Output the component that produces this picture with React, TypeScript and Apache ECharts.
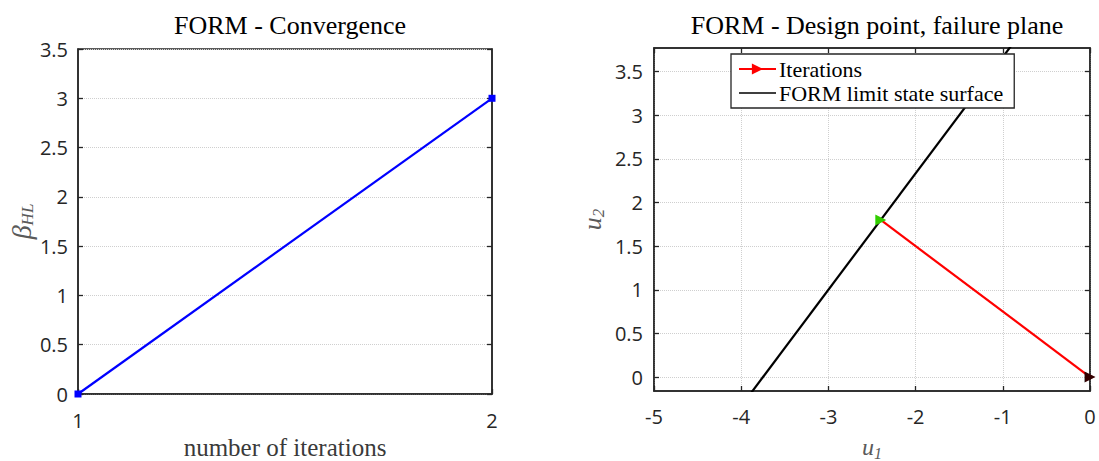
import React, { useEffect, useRef } from "react";
import * as echarts from "echarts";

// Left panel: convergence of beta_HL
const iterations = [1, 2];
const betaHL = [0, 3];

// Right panel: design point and failure plane
const iterU1 = [0, -2.4];
const iterU2 = [0, 1.8];
const lsfU1 = [-4.05, -0.75];
const lsfU2 = [-0.4, 4.0];
const u2Ticks = [0, 0.5, 1, 1.5, 2, 2.5, 3, 3.5];
const u2Min = -0.16;
const u2Max = 3.77;

const SERIF = "'Liberation Serif', 'Times New Roman', serif";
const SANS = "'Open Sans', 'Noto Sans', sans-serif";
const AX = "#262626";
const NAMEC = "#5a5a5a";
const GRIDC = "#cfcfcf";
const LINE_ICON = "path://M0,0 L0.01,0 L0.01,0.01 Z M0,5.2 L37,5.2 L37,6.8 L0,6.8 Z M0,12 L0.01,12 L0.01,11.99 Z";

export default function App() {
  const ref = useRef<HTMLDivElement>(null);
  useEffect(() => {
    document.body.style.margin = "0";
    document.body.style.overflow = "hidden";
    const chart = echarts.init(ref.current!, null, { renderer: "svg" });
    const tickStyle = { show: true, inside: true, length: 5, lineStyle: { color: AX, width: 1.3 } };
    const labelStyle = { color: AX, fontFamily: SANS, fontSize: 20 };
    const lineAx = { show: true, onZero: false, lineStyle: { color: AX, width: 1.5 } };
    const split = { show: true, lineStyle: { color: GRIDC, type: "dotted", width: 1 } };
    const sub = (size: number, subSize: number) => ({
      a: { fontFamily: SERIF, fontStyle: "italic", fontSize: size, color: NAMEC, lineHeight: 20 },
      b: { fontFamily: SERIF, fontStyle: "italic", fontSize: subSize, color: NAMEC, lineHeight: 8, padding: [12, 0, 0, 0] },
    });

    chart.setOption({
      animation: false,
      title: [
        { text: "FORM - Convergence", left: 285, top: 7, textAlign: "center",
          textStyle: { fontFamily: SERIF, fontWeight: "normal", fontSize: 26, color: "#000" } },
        { text: "FORM - Design point, failure plane", left: 872, top: 7, textAlign: "center",
          textStyle: { fontFamily: SERIF, fontWeight: "normal", fontSize: 26, color: "#000" } },
      ],
      legend: {
        data: [
          { name: "Iterations" },
          { name: "FORM limit state surface", icon: LINE_ICON, itemStyle: { color: "#000" } },
        ],
        orient: "vertical",
        left: 731,
        top: 54,
        padding: [4, 11, 4, 7],
        itemGap: 2,
        itemWidth: 37,
        itemHeight: 14,
        backgroundColor: "#fff",
        borderColor: AX,
        borderWidth: 1.3,
        borderRadius: 0,
        textStyle: { fontFamily: SERIF, fontSize: 22, color: "#000", padding: [0, 0, 0, -2] },
      },
      grid: [
        { left: 78, top: 49, width: 414, height: 345, show: true, borderColor: AX, borderWidth: 1.5,
          containLabel: false, outerBoundsMode: "none" },
        { left: 654, top: 48, width: 436, height: 343, show: true, borderColor: AX, borderWidth: 1.5,
          containLabel: false, outerBoundsMode: "none" },
      ],
      xAxis: [
        { type: "value", gridIndex: 0, min: 1, max: 2, interval: 1, position: "bottom",
          axisLine: lineAx, axisTick: tickStyle, splitLine: { show: false },
          axisLabel: { ...labelStyle, margin: 16 },
          name: "number of iterations", nameLocation: "middle", nameGap: 43,
          nameTextStyle: { fontFamily: SERIF, fontSize: 25, lineHeight: 20, color: "#3a3a3a" } },
        { type: "value", gridIndex: 1, min: -5, max: 0, interval: 1, position: "bottom",
          axisLine: lineAx, axisTick: tickStyle, splitLine: split,
          axisLabel: { ...labelStyle, margin: 15 },
          name: "{a|u}{b|1}", nameLocation: "middle", nameGap: 46,
          nameTextStyle: { rich: sub(24, 16) } },
        { type: "value", gridIndex: 1, min: -5, max: 0, interval: 1, position: "top",
          axisLine: lineAx, axisTick: tickStyle, splitLine: { show: false }, axisLabel: { show: false } },
      ],
      yAxis: [
        { type: "value", gridIndex: 0, min: 0, max: 3.5, interval: 0.5, position: "left",
          axisLine: lineAx, axisTick: tickStyle, splitLine: split,
          axisLabel: { ...labelStyle, margin: 10 },
          name: "{a|β}{b|HL}", nameLocation: "middle", nameGap: 44,
          nameTextStyle: { rich: sub(28, 17) } },
        { type: "value", gridIndex: 0, min: 0, max: 3.5, interval: 0.5, position: "right",
          axisLine: lineAx, axisTick: tickStyle, splitLine: { show: false }, axisLabel: { show: false } },
        { type: "value", gridIndex: 1, min: u2Min, max: u2Max, position: "left",
          axisLine: lineAx,
          axisTick: { ...tickStyle, customValues: u2Ticks },
          splitLine: split,
          axisLabel: { ...labelStyle, margin: 11, customValues: u2Ticks },
          name: "{a|u}{b|2}", nameLocation: "middle", nameGap: 52,
          nameTextStyle: { rich: sub(26, 17) } },
        { type: "value", gridIndex: 1, min: u2Min, max: u2Max, position: "right",
          axisLine: lineAx,
          axisTick: { ...tickStyle, customValues: u2Ticks },
          splitLine: { show: false }, axisLabel: { show: false, customValues: u2Ticks } },
      ],
      series: [
        {
          name: "beta", type: "line", xAxisIndex: 0, yAxisIndex: 0,
          data: iterations.map((x, i) => [x, betaHL[i]]),
          symbol: "rect", symbolSize: 7, showSymbol: true, clip: false,
          lineStyle: { color: "#0000ff", width: 2.2 }, itemStyle: { color: "#0000ff" },
        },
        {
          name: "FORM limit state surface", type: "line", xAxisIndex: 1, yAxisIndex: 2,
          data: lsfU1.map((x, i) => [x, lsfU2[i]]),
          showSymbol: false, symbol: "none", clip: true,
          lineStyle: { color: "#000", width: 2.2 }, itemStyle: { color: "#000" }, z: 2,
        },
        {
          name: "Iterations", type: "line", xAxisIndex: 1, yAxisIndex: 2,
          data: iterU1.map((x, i) => [x, iterU2[i]]),
          symbol: "triangle", symbolRotate: -90, symbolSize: 10, showSymbol: true, clip: false,
          lineStyle: { color: "#ff0000", width: 2.2 }, itemStyle: { color: "#ff0000" }, z: 3,
        },
        {
          name: "start", type: "scatter", xAxisIndex: 1, yAxisIndex: 2,
          data: [[iterU1[0], iterU2[0]]],
          symbol: "triangle", symbolRotate: -90, symbolSize: 11, clip: false,
          itemStyle: { color: "#000" }, z: 4,
        },
        {
          name: "design point", type: "scatter", xAxisIndex: 1, yAxisIndex: 2,
          data: [[iterU1[1], iterU2[1]]],
          symbol: "triangle", symbolRotate: -90, symbolSize: 11, clip: false,
          itemStyle: { color: "#00ff00" }, z: 4,
        },
      ],
    });
    return () => chart.dispose();
  }, []);
  return <div ref={ref} style={{ position: "absolute", left: 0, top: 0, width: 1099, height: 461, overflow: "hidden" }} />;
}
